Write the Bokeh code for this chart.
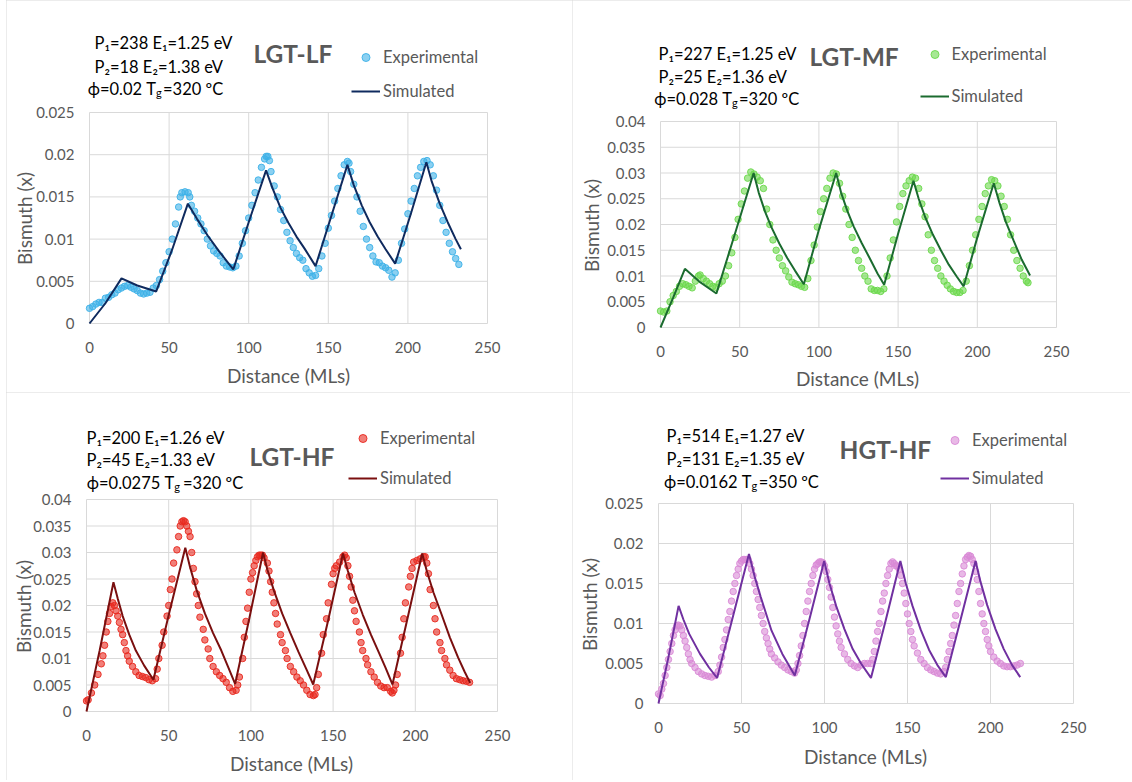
import math
from bokeh.plotting import figure
from bokeh.models import Label, Legend, LegendItem, FixedTicker, Range1d, Spacer
from bokeh.layouts import column, row
from bokeh.core.properties import value
from bokeh.embed import file_html
from bokeh.resources import INLINE

FONT = "Lato"
GRID = "#d9d9d9"
TXT = "#595959"

# ---------------- tick labels ----------------
x_ticks = [0, 50, 100, 150, 200, 250]
x_tick_labels = ["0", "50", "100", "150", "200", "250"]
y_ticks_025 = [0, 0.005, 0.01, 0.015, 0.02, 0.025]
y_tick_labels_025 = ["0", "0.005", "0.01", "0.015", "0.02", "0.025"]
y_ticks_040 = [0, 0.005, 0.01, 0.015, 0.02, 0.025, 0.03, 0.035, 0.04]
y_tick_labels_040 = ["0", "0.005", "0.01", "0.015", "0.02", "0.025", "0.03", "0.035", "0.04"]

# ---------------- texts ----------------
x_title = "Distance (MLs)"
y_title = "Bismuth (x)"
titles = ["LGT-LF", "LGT-MF", "LGT-HF", "HGT-HF"]
param_line1 = ["P₁=238  E₁=1.25 eV", "P₁=227  E₁=1.25 eV", "P₁=200  E₁=1.26 eV", "P₁=514  E₁=1.27 eV"]
param_line2 = ["P₂=18 E₂=1.38 eV", "P₂=25 E₂=1.36 eV", "P₂=45 E₂=1.33 eV", "P₂=131 E₂=1.35 eV"]
phi_part = ["ϕ=0.02 T", "ϕ=0.028 T", "ϕ=0.0275 T", "ϕ=0.0162 T"]
tg_part = ["=320 ºC", "=320 ºC", "=320 ºC", "=350 ºC"]

# ---------------- LGT-LF ----------------
lf_exp_x = [0, 2, 4, 6, 8, 10, 12, 14, 16, 18, 20, 22, 24, 26, 28, 30, 32, 34, 36, 38, 40, 42, 44, 46, 48,
            50, 52, 54, 56, 57, 58, 60, 62, 63, 64, 66, 68, 70, 72, 74, 76, 78, 80, 82, 84, 86, 88, 90, 92,
            94, 96, 98, 100, 102, 104, 106, 108, 110, 111, 112, 113, 114, 116, 118, 120, 122, 124, 126, 128,
            130, 132, 134, 136, 138, 140, 142, 144, 146, 148, 150, 152, 154, 156, 158, 160, 162, 163, 164,
            166, 168, 170, 172, 174, 176, 178, 180, 182, 184, 186, 188, 190, 192, 194, 196, 198, 200, 202,
            204, 206, 208, 210, 212, 214, 216, 218, 220, 222, 224, 226, 228, 230, 232]
lf_exp_y = [0.0018, 0.0020, 0.0023, 0.0025, 0.0025, 0.0030, 0.0031, 0.0034, 0.0036, 0.0040, 0.0042, 0.0044,
            0.0045, 0.0043, 0.0041, 0.0039, 0.0036, 0.0035, 0.0036, 0.0037, 0.0042, 0.0045, 0.0052, 0.0062,
            0.0072, 0.0085, 0.0100, 0.0118, 0.0138, 0.0150, 0.0155, 0.0156, 0.0155, 0.0150, 0.0140, 0.0133,
            0.0125, 0.0118, 0.0110, 0.0100, 0.0092, 0.0086, 0.0083, 0.0080, 0.0072, 0.0068, 0.0067, 0.0066,
            0.0068, 0.0080, 0.0095, 0.0110, 0.0125, 0.0140, 0.0155, 0.0170, 0.0185, 0.0195, 0.0198, 0.0198,
            0.0193, 0.0180, 0.0163, 0.0150, 0.0135, 0.0122, 0.0108, 0.0098, 0.0090, 0.0083, 0.0078, 0.0075,
            0.0065, 0.0060, 0.0056, 0.0057, 0.0065, 0.0080, 0.0095, 0.0113, 0.0128, 0.0145, 0.0160, 0.0175,
            0.0188, 0.0192, 0.0190, 0.0180, 0.0165, 0.0150, 0.0133, 0.0115, 0.0100, 0.0090, 0.0080, 0.0073,
            0.0072, 0.0068, 0.0066, 0.0063, 0.0055, 0.0060, 0.0075, 0.0095, 0.0112, 0.0130, 0.0145, 0.0160,
            0.0175, 0.0185, 0.0192, 0.0193, 0.0188, 0.0175, 0.0158, 0.0140, 0.0122, 0.0108, 0.0095, 0.0085,
            0.0077, 0.0070]
lf_sim_x = [0, 10, 20.1, 30, 41.9, 52, 61.8, 67.5, 74.3, 81.2, 90.3, 100, 110.9, 115, 120, 125, 130, 135,
            142, 152, 162, 166, 171, 176, 181, 186, 192, 202, 211.6, 215, 220, 225, 230, 233.3]
lf_sim_y = [0, 0.0024, 0.00535, 0.0045, 0.0038, 0.0088, 0.0142, 0.0124, 0.0104, 0.0086, 0.0064, 0.0120,
            0.01815, 0.0160, 0.0137, 0.0119, 0.0103, 0.0089, 0.0068, 0.0128, 0.0188, 0.0164, 0.0140, 0.0120,
            0.0103, 0.0088, 0.0071, 0.0131, 0.0191, 0.0168, 0.0142, 0.0120, 0.0100, 0.0088]

# ---------------- LGT-MF ----------------
mf_exp_x = [0, 2, 4, 6, 8, 10, 12, 14, 16, 18, 20, 22, 24, 25, 27, 29, 31, 33, 35, 37, 39, 41, 43, 45, 47,
            49, 51, 53, 55, 57, 59, 61, 63, 65, 67, 69, 71, 73, 75, 77, 79, 81, 83, 85, 87, 89, 91, 93, 95,
            97, 99, 101, 103, 105, 107, 109, 111, 113, 115, 117, 119, 121, 123, 125, 127, 129, 131, 133, 135,
            137, 139, 141, 143, 145, 147, 149, 151, 153, 155, 157, 159, 161, 163, 165, 167, 169, 171, 173,
            175, 177, 179, 181, 183, 185, 187, 189, 191, 193, 195, 197, 199, 201, 203, 205, 207, 209, 211,
            213, 215, 217, 219, 221, 223, 225, 227, 229, 231, 232]
mf_exp_y = [0.0032, 0.0030, 0.0032, 0.0050, 0.0062, 0.0070, 0.0080, 0.0085, 0.0083, 0.0080, 0.0077, 0.0090,
            0.0100, 0.0102, 0.0095, 0.0090, 0.0085, 0.0080, 0.0078, 0.0085, 0.0090, 0.0100, 0.0120, 0.0145,
            0.0175, 0.0210, 0.0240, 0.0265, 0.0290, 0.0302, 0.0298, 0.0292, 0.0285, 0.0270, 0.0230, 0.0200,
            0.0170, 0.0150, 0.0135, 0.0120, 0.0110, 0.0098, 0.0088, 0.0085, 0.0083, 0.0080, 0.0078, 0.0095,
            0.0130, 0.0160, 0.0195, 0.0225, 0.0250, 0.0270, 0.0290, 0.0300, 0.0298, 0.0280, 0.0255, 0.0230,
            0.0200, 0.0175, 0.0150, 0.0130, 0.0115, 0.0100, 0.0090, 0.0075, 0.0072, 0.0072, 0.0070, 0.0075,
            0.0100, 0.0135, 0.0170, 0.0205, 0.0235, 0.0260, 0.0275, 0.0285, 0.0292, 0.0290, 0.0270, 0.0240,
            0.0215, 0.0180, 0.0150, 0.0130, 0.0115, 0.0100, 0.0090, 0.0082, 0.0075, 0.0070, 0.0068, 0.0068,
            0.0072, 0.0090, 0.0120, 0.0150, 0.0180, 0.0210, 0.0235, 0.0260, 0.0275, 0.0287, 0.0285, 0.0275,
            0.0255, 0.0235, 0.0210, 0.0180, 0.0150, 0.0130, 0.0115, 0.0100, 0.0090, 0.0087]
mf_sim_x = [0, 8, 15.4, 25, 35.3, 47, 58.8, 62, 66, 70, 75, 80, 85, 90.5, 100, 110.9, 114, 118, 122, 127,
            132, 137, 141.2, 150, 159.7, 163, 167, 172, 177, 182, 187, 191.4, 200, 210.4, 214, 218, 223, 228,
            233.3]
mf_sim_y = [0, 0.0058, 0.0114, 0.0088, 0.0066, 0.0182, 0.0300, 0.0262, 0.0225, 0.0195, 0.0163, 0.0135,
            0.0110, 0.0084, 0.0190, 0.0300, 0.0262, 0.0226, 0.0196, 0.0164, 0.0135, 0.0105, 0.0083, 0.0182,
            0.0285, 0.0250, 0.0215, 0.0180, 0.0150, 0.0122, 0.0099, 0.0080, 0.0175, 0.0280, 0.0242, 0.0205,
            0.0168, 0.0132, 0.0101]

# ---------------- LGT-HF ----------------
hf_exp_x = [0, 1, 3, 5, 7, 9, 10, 11, 12, 13, 14, 15, 16, 17, 18, 19, 20, 21, 22, 23, 24, 25, 26, 28, 30,
            32, 34, 36, 38, 40, 42, 43, 44, 46, 47, 49, 50, 51, 52, 53, 55, 56, 57, 58, 59, 60, 61, 62, 63,
            64, 65, 66, 67, 68, 69, 71, 72, 74, 75, 77, 79, 81, 83, 85, 87, 89, 91, 92, 93, 95, 96, 97, 98,
            99, 100, 101, 102, 103, 104, 105, 106, 107, 108, 110, 111, 112, 113, 114, 115, 116, 118, 119,
            121, 122, 124, 126, 128, 130, 132, 134, 136, 138, 139, 140, 141, 143, 144, 146, 147, 149, 150,
            151, 152, 154, 156, 157, 158, 159, 160, 161, 162, 163, 164, 166, 167, 168, 170, 171, 173, 175,
            177, 179, 181, 183, 185, 186, 187, 188, 189, 191, 192, 193, 194, 196, 197, 198, 199, 201, 203,
            205, 206, 207, 208, 209, 211, 212, 213, 215, 216, 218, 219, 221, 223, 225, 227, 229, 231, 233]
hf_exp_y = [0.0020, 0.0022, 0.0035, 0.0050, 0.0070, 0.0090, 0.0105, 0.0125, 0.0150, 0.0170, 0.0185, 0.0198,
            0.0205, 0.0200, 0.0190, 0.0180, 0.0168, 0.0155, 0.0145, 0.0130, 0.0115, 0.0105, 0.0095, 0.0085,
            0.0075, 0.0068, 0.0066, 0.0064, 0.0060, 0.0058, 0.0062, 0.0080, 0.0100, 0.0125, 0.0150, 0.0180,
            0.0200, 0.0230, 0.0250, 0.0280, 0.0305, 0.0330, 0.0350, 0.0358, 0.0360, 0.0358, 0.0350, 0.0340,
            0.0330, 0.0300, 0.0270, 0.0245, 0.0222, 0.0200, 0.0178, 0.0155, 0.0135, 0.0118, 0.0100, 0.0085,
            0.0075, 0.0068, 0.0062, 0.0055, 0.0045, 0.0038, 0.0040, 0.0050, 0.0065, 0.0100, 0.0140, 0.0170,
            0.0195, 0.0225, 0.0250, 0.0262, 0.0275, 0.0285, 0.0292, 0.0295, 0.0295, 0.0295, 0.0290, 0.0280,
            0.0265, 0.0245, 0.0225, 0.0205, 0.0185, 0.0165, 0.0145, 0.0130, 0.0115, 0.0100, 0.0085, 0.0075,
            0.0065, 0.0058, 0.0050, 0.0040, 0.0032, 0.0030, 0.0032, 0.0045, 0.0070, 0.0110, 0.0145, 0.0175,
            0.0205, 0.0240, 0.0260, 0.0270, 0.0275, 0.0282, 0.0292, 0.0295, 0.0290, 0.0275, 0.0255, 0.0235,
            0.0210, 0.0190, 0.0170, 0.0150, 0.0130, 0.0115, 0.0100, 0.0088, 0.0075, 0.0065, 0.0055, 0.0048,
            0.0045, 0.0045, 0.0038, 0.0035, 0.0040, 0.0050, 0.0070, 0.0110, 0.0140, 0.0175, 0.0205, 0.0235,
            0.0255, 0.0270, 0.0282, 0.0285, 0.0288, 0.0292, 0.0292, 0.0280, 0.0260, 0.0230, 0.0200, 0.0175,
            0.0150, 0.0130, 0.0115, 0.0100, 0.0088, 0.0078, 0.0068, 0.0062, 0.0060, 0.0058, 0.0057, 0.0055]
hf_sim_x = [0, 8, 16.4, 19, 22, 26, 30, 35, 40.7, 50, 60.1, 63, 67, 72, 77, 82, 86, 90.4, 99, 107.4, 110,
            114, 119, 124, 129, 134, 137.9, 147, 156, 159, 163, 168, 173, 178, 182, 186.1, 195, 204.2, 207,
            211, 216, 221, 226, 230, 233.4]
hf_sim_y = [0, 0.0115, 0.0244, 0.0213, 0.0180, 0.0145, 0.0115, 0.0087, 0.0060, 0.0182, 0.0309, 0.0272,
            0.0229, 0.0185, 0.0148, 0.0115, 0.0085, 0.0052, 0.0175, 0.0300, 0.0268, 0.0228, 0.0185, 0.0148,
            0.0112, 0.0078, 0.0051, 0.0172, 0.0298, 0.0265, 0.0225, 0.0183, 0.0145, 0.0110, 0.0082, 0.0051,
            0.0172, 0.0298, 0.0265, 0.0225, 0.0183, 0.0140, 0.0102, 0.0075, 0.0054]

# ---------------- HGT-HF ----------------
hg_exp_x = [0, 1, 2, 3, 4, 5, 6, 7, 8, 9, 10, 11, 12, 13, 14, 15, 16, 17, 18, 19, 20, 22, 24, 26, 28, 30,
            32, 34, 36, 37, 38, 39, 40, 41, 42, 43, 44, 45, 46, 47, 48, 49, 50, 51, 52, 53, 54, 55, 56, 57,
            58, 59, 60, 61, 62, 63, 64, 65, 66, 67, 68, 70, 72, 74, 76, 78, 80, 82, 83, 84, 85, 86, 87, 88,
            89, 90, 91, 92, 93, 94, 95, 96, 97, 98, 99, 100, 101, 102, 103, 104, 105, 106, 107, 108, 109,
            110, 112, 114, 116, 118, 120, 122, 124, 126, 128, 129, 130, 131, 132, 133, 134, 135, 136, 137,
            138, 139, 140, 141, 142, 143, 144, 145, 146, 147, 148, 149, 150, 151, 152, 153, 154, 156, 158,
            160, 162, 164, 166, 168, 170, 172, 173, 174, 175, 176, 177, 178, 179, 180, 181, 182, 183, 184,
            185, 186, 187, 188, 189, 190, 191, 192, 193, 194, 195, 196, 197, 198, 199, 200, 202, 204, 206,
            208, 210, 212, 214, 216, 218]
hg_exp_y = [0.0012, 0.0010, 0.0018, 0.0025, 0.0035, 0.0045, 0.0055, 0.0065, 0.0075, 0.0085, 0.0092, 0.0097,
            0.0098, 0.0097, 0.0092, 0.0085, 0.0078, 0.0070, 0.0062, 0.0055, 0.0050, 0.0045, 0.0040, 0.0037,
            0.0035, 0.0034, 0.0033, 0.0035, 0.0040, 0.0048, 0.0058, 0.0070, 0.0080, 0.0092, 0.0105, 0.0115,
            0.0128, 0.0140, 0.0150, 0.0160, 0.0168, 0.0175, 0.0178, 0.0180, 0.0180, 0.0180, 0.0180, 0.0175,
            0.0168, 0.0160, 0.0150, 0.0140, 0.0130, 0.0120, 0.0110, 0.0100, 0.0090, 0.0082, 0.0075, 0.0068,
            0.0062, 0.0057, 0.0052, 0.0048, 0.0045, 0.0042, 0.0040, 0.0038, 0.0042, 0.0050, 0.0060, 0.0072,
            0.0085, 0.0100, 0.0115, 0.0128, 0.0140, 0.0150, 0.0160, 0.0168, 0.0173, 0.0175, 0.0177, 0.0177,
            0.0176, 0.0172, 0.0165, 0.0155, 0.0145, 0.0133, 0.0120, 0.0108, 0.0097, 0.0087, 0.0078, 0.0070,
            0.0062, 0.0055, 0.0050, 0.0047, 0.0045, 0.0048, 0.0050, 0.0050, 0.0050, 0.0055, 0.0065, 0.0078,
            0.0090, 0.0100, 0.0115, 0.0128, 0.0138, 0.0150, 0.0160, 0.0168, 0.0175, 0.0177, 0.0175, 0.0172,
            0.0172, 0.0168, 0.0160, 0.0150, 0.0138, 0.0125, 0.0112, 0.0100, 0.0090, 0.0080, 0.0072, 0.0063,
            0.0055, 0.0050, 0.0045, 0.0042, 0.0040, 0.0038, 0.0037, 0.0040, 0.0045, 0.0055, 0.0065, 0.0075,
            0.0085, 0.0098, 0.0110, 0.0125, 0.0140, 0.0150, 0.0162, 0.0172, 0.0180, 0.0183, 0.0185, 0.0184,
            0.0180, 0.0175, 0.0165, 0.0155, 0.0140, 0.0125, 0.0112, 0.0100, 0.0090, 0.0080, 0.0072, 0.0065,
            0.0058, 0.0053, 0.0050, 0.0047, 0.0046, 0.0046, 0.0047, 0.0048, 0.0050]
hg_sim_x = [0, 6, 12.1, 15, 18.5, 25, 30.4, 35.3, 45, 54.5, 58, 61.6, 68.1, 74.6, 82.1, 91, 99.8, 103, 107,
            112, 117, 122, 128, 137, 145.7, 149, 153, 158, 163, 168, 173.1, 182, 191, 194, 198, 203, 208,
            213, 217.9]
hg_sim_y = [0, 0.0058, 0.0122, 0.0105, 0.0087, 0.0062, 0.0045, 0.0032, 0.0110, 0.0187, 0.0158, 0.0133,
            0.0091, 0.0062, 0.0035, 0.0106, 0.0178, 0.0150, 0.0122, 0.0093, 0.0068, 0.0050, 0.0032, 0.0105,
            0.0178, 0.0150, 0.0122, 0.0092, 0.0067, 0.0048, 0.0033, 0.0105, 0.0178, 0.0152, 0.0123, 0.0093,
            0.0068, 0.0048, 0.0033]


def make_panel(i, exp_x, exp_y, sim_x, sim_y, exp_color, sim_color, ymax, yticks, ylabels,
               fig, plot, text_left, line_ys, tg_split, tg_rest, title_pos,
               leg_left, leg_y1, leg_y2, xt_pos, yt_pos):
    # fig / plot: (left, top, width, height) in page pixels; the frame covers the whole figure
    fl, ft, fw, fh = fig
    pl, pt, pw, ph = plot
    fb = ft + fh
    pb = pt + ph
    x0 = -(pl - fl) * 250.0 / pw
    x1 = 250.0 + (fl + fw - pl - pw) * 250.0 / pw
    y0 = -(fb - pb) * ymax / ph
    y1 = ymax + (pt - ft) * ymax / ph
    p = figure(width=fw, height=fh, x_range=Range1d(x0, x1), y_range=Range1d(y0, y1),
               output_backend="svg", toolbar_location=None,
               min_border_left=0, min_border_right=0, min_border_top=0, min_border_bottom=0,
               background_fill_color="white", border_fill_color="white", outline_line_color=None,
               styles={"outline": "1px solid #d9d9d9", "outline-offset": "-1px"})
    p.xaxis.ticker = FixedTicker(ticks=x_ticks)
    p.xaxis.major_label_overrides = dict(zip(x_ticks, x_tick_labels))
    p.yaxis.ticker = FixedTicker(ticks=yticks)
    p.yaxis.major_label_overrides = dict(zip(yticks, ylabels))
    p.xaxis.fixed_location = 0
    p.yaxis.fixed_location = 0
    p.xaxis.bounds = (0, 250)
    p.yaxis.bounds = (0, ymax)
    for ax in (p.xaxis, p.yaxis):
        ax.axis_line_color = None
        ax.major_tick_line_color = None
        ax.minor_tick_line_color = None
        ax.major_tick_out = 0
        ax.major_tick_in = 0
        ax.major_label_text_font = FONT
        ax.major_label_text_font_size = "15px"
        ax.major_label_text_color = TXT
    p.xaxis.major_label_standoff = 18
    p.yaxis.major_label_standoff = 15
    p.xgrid.visible = False
    p.ygrid.visible = False
    # grid lines of the plotting area, one per tick
    p.segment(x0=[0] * len(yticks), y0=yticks, x1=[250] * len(yticks), y1=yticks,
              line_color=GRID, line_width=1, level="underlay")
    p.segment(x0=x_ticks, y0=[0] * len(x_ticks), x1=x_ticks, y1=[ymax] * len(x_ticks),
              line_color=GRID, line_width=1, level="underlay")

    r_exp = p.scatter(exp_x, exp_y, marker="circle", size=6.5, fill_color=exp_color,
                      line_color=exp_color, fill_alpha=0.6, line_alpha=0.9, line_width=1)
    r_sim = p.line(sim_x, sim_y, line_color=sim_color, line_width=2)

    gh = 20
    spacing = (leg_y2 - leg_y1) - gh
    legend = Legend(items=[LegendItem(label=value("Experimental"), renderers=[r_exp]),
                           LegendItem(label=value("Simulated"), renderers=[r_sim])],
                    location=(leg_left - fl, fb - (leg_y2 + gh / 2)),
                    orientation="vertical", background_fill_alpha=0, border_line_color=None,
                    padding=0, margin=0, spacing=spacing, glyph_width=29, glyph_height=gh,
                    label_height=gh, label_standoff=3, label_text_font=FONT,
                    label_text_font_size="16.5px", label_text_color=TXT, label_text_baseline="middle")
    p.add_layout(legend)

    def lab(x, y, text, size="16.5px", color="black", align="left", style="normal", angle=0.0):
        p.add_layout(Label(x=x - fl, y=fb - y, x_units="screen", y_units="screen",
                           text=text, text_font=FONT, text_font_size=size, text_color=color,
                           text_align=align, text_baseline="middle", text_font_style=style,
                           angle=angle))

    lab(text_left, line_ys[0], param_line1[i])
    lab(text_left, line_ys[1], param_line2[i])
    lab(tg_split, line_ys[2], phi_part[i], align="right")
    lab(tg_split, line_ys[2] + 4, "g", size="11px")
    lab(tg_rest, line_ys[2], tg_part[i])
    lab(title_pos[0], title_pos[1], titles[i], size="24.5px", color=TXT, style="bold")
    lab(xt_pos[0], xt_pos[1], x_title, size="19px", color=TXT, align="center")
    lab(yt_pos[0], yt_pos[1], y_title, size="19px", color=TXT, align="center", angle=math.pi / 2)
    return p


p1 = make_panel(0, lf_exp_x, lf_exp_y, lf_sim_x, lf_sim_y, "#3db1e8", "#0f2a5e", 0.025,
                y_ticks_025, y_tick_labels_025,
                (6, 0, 566, 392), (89, 112, 398, 211),
                94, (42, 66, 88), 155.6, 162.5, (253, 53),
                351, 57, 91, (288, 375), (24, 218))
p2 = make_panel(1, mf_exp_x, mf_exp_y, mf_sim_x, mf_sim_y, "#6cd84c", "#1b6b2f", 0.04,
                y_ticks_040, y_tick_labels_040,
                (572, 0, 558, 392), (660, 121, 396, 206),
                658, (53, 76, 98), 731.6, 738.5, (809, 56),
                919.5, 54, 96, (857, 378), (591, 225))
p3 = make_panel(2, hf_exp_x, hf_exp_y, hf_sim_x, hf_sim_y, "#e8291f", "#7a0f0f", 0.04,
                y_ticks_040, y_tick_labels_040,
                (6, 392, 566, 388), (86, 499, 411, 212),
                86, (437, 459, 482), 173.8, 182.5, (249, 456),
                348, 438, 478, (291, 763), (23, 606))
p4 = make_panel(3, hg_exp_x, hg_exp_y, hg_sim_x, hg_sim_y, "#d98ad6", "#7030a0", 0.025,
                y_ticks_025, y_tick_labels_025,
                (572, 392, 558, 388), (658, 503, 415, 200),
                666, (435, 458, 481), 751, 758.2, (839, 449),
                940, 440, 478, (865, 756), (589, 604))

layout = column(row(Spacer(width=6, height=392), p1, p2),
                row(Spacer(width=6, height=388), p3, p4))
open("out.html", "w").write(file_html(layout, INLINE))
